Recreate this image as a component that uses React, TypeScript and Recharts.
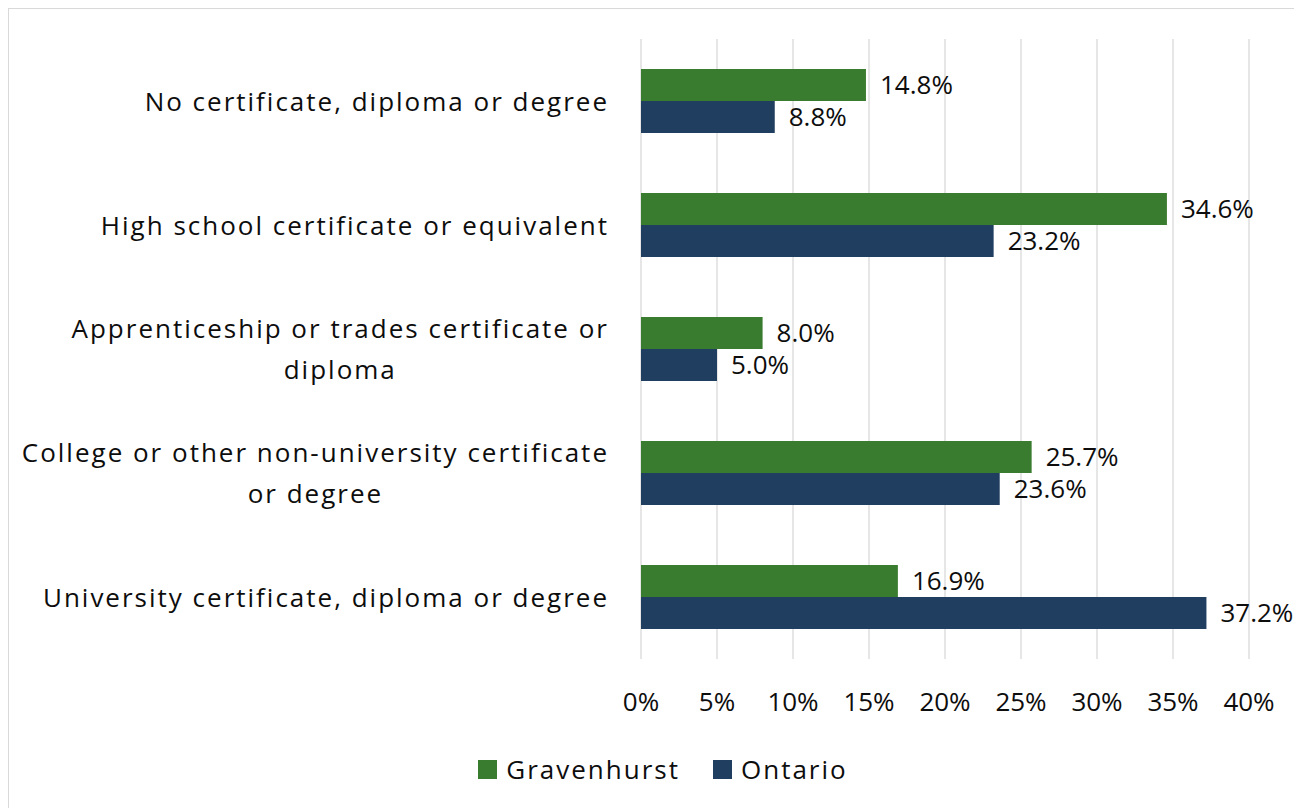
import { Bar, BarChart, CartesianGrid, LabelList, Legend, XAxis, YAxis } from "recharts";

const categories = [
  "No certificate, diploma or degree",
  "High school certificate or equivalent",
  "Apprenticeship or trades certificate or diploma",
  "College or other non-university certificate or degree",
  "University certificate, diploma or degree",
];

// how the axis labels wrap in the original
const categoryLines = [
  ["No certificate, diploma or degree"],
  ["High school certificate or equivalent"],
  ["Apprenticeship or trades certificate or", "diploma"],
  ["College or other non-university certificate", "or degree"],
  ["University certificate, diploma or degree"],
];

const gravenhurst = [14.8, 34.6, 8.0, 25.7, 16.9];
const ontario = [8.8, 23.2, 5.0, 23.6, 37.2];

const xTicks = [0, 5, 10, 15, 20, 25, 30, 35, 40];

const GREEN = "#3A7C2F";
const NAVY = "#203F60";
const FONT = "'Open Sans', sans-serif";
const FS = 26;
const TEXT = "#0d0d0d";

const data = categories.map((name, i) => ({
  name,
  Gravenhurst: gravenhurst[i],
  Ontario: ontario[i],
}));

const CategoryTick = ({ x, y, index }) => {
  const lines = categoryLines[index] || [];
  const lineH = 41;
  const h = lines.length * lineH;
  return (
    <foreignObject x={x - 640} y={y - h / 2} width={640} height={h}>
      <div
        style={{
          display: "flex",
          justifyContent: "flex-end",
          fontFamily: FONT,
          fontSize: FS,
          letterSpacing: 2,
          color: TEXT,
          lineHeight: `${lineH}px`,
        }}
      >
        <div style={{ textAlign: "center", whiteSpace: "nowrap" }}>
          {lines.map((l, i) => (
            <div key={i}>{l}</div>
          ))}
        </div>
      </div>
    </foreignObject>
  );
};

const LegendContent = ({ payload }) => (
  <div
    style={{
      display: "flex",
      justifyContent: "center",
      alignItems: "center",
      fontFamily: FONT,
      fontSize: FS,
      letterSpacing: 2,
      color: TEXT,
      height: 19,
    }}
  >
    {(payload || []).map((p, i) => (
      <div
        key={p.value}
        style={{ display: "flex", alignItems: "center", marginLeft: i ? 33 : 0 }}
      >
        <span
          style={{ width: 19, height: 19, background: p.color, marginRight: 9, display: "inline-block" }}
        />
        <span style={{ lineHeight: "19px" }}>{p.value}</span>
      </div>
    ))}
  </div>
);

export default function App() {
  return (
    <div style={{ width: 1294, height: 800, overflow: "hidden" }}>
      <div style={{ width: 1400, height: 900, border: "1px solid #d9d9d9", background: "#fff" }}>
        <BarChart
          width={1380}
          height={800}
          data={data}
          layout="vertical"
          margin={{ top: 30, right: 140, bottom: 0, left: 0 }}
          barGap={0}
          barCategoryGap={30}
        >
          <CartesianGrid horizontal={false} stroke="#d9d9d9" strokeWidth={1.3} />
          <XAxis
            type="number"
            domain={[0, 40]}
            ticks={xTicks}
            tickFormatter={(v) => `${v}%`}
            axisLine={false}
            tickLine={false}
            tickSize={0}
            tickMargin={34}
            height={150}
            interval={0}
            tick={{ fontFamily: FONT, fontSize: FS, fill: TEXT }}
          />
          <YAxis
            type="category"
            dataKey="name"
            width={632}
            axisLine={false}
            tickLine={false}
            tickSize={0}
            tickMargin={32}
            interval={0}
            tick={<CategoryTick />}
          />
          <Legend
            verticalAlign="middle"
            content={<LegendContent />}
            wrapperStyle={{ top: 751, left: 0, width: 1308 }}
          />
          <Bar dataKey="Gravenhurst" fill={GREEN} barSize={32} isAnimationActive={false}>
            <LabelList
              dataKey="Gravenhurst"
              position="right"
              offset={14}
              formatter={(v) => `${Number(v).toFixed(1)}%`}
              style={{ fontFamily: FONT, fontSize: FS, fill: TEXT }}
            />
          </Bar>
          <Bar dataKey="Ontario" fill={NAVY} barSize={32} isAnimationActive={false}>
            <LabelList
              dataKey="Ontario"
              position="right"
              offset={14}
              formatter={(v) => `${Number(v).toFixed(1)}%`}
              style={{ fontFamily: FONT, fontSize: FS, fill: TEXT }}
            />
          </Bar>
        </BarChart>
      </div>
    </div>
  );
}
